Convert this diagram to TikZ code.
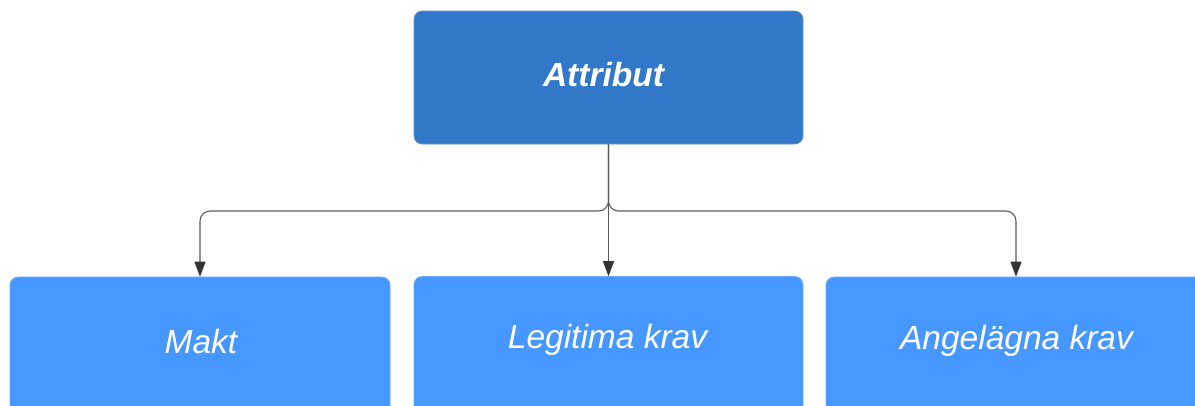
\documentclass[tikz,border=0pt]{standalone}
\usepackage{fontspec}
\setmainfont{Liberation Sans}
\usetikzlibrary{arrows.meta}
\definecolor{topblue}{HTML}{3278C8}
\definecolor{topedge}{HTML}{5C93D4}
\definecolor{lowblue}{HTML}{4697FF}
\definecolor{lowedge}{HTML}{6AABFF}
\definecolor{linec}{HTML}{5A5A5A}
\definecolor{tipc}{HTML}{333333}
\tikzset{
  topbox/.style={draw=topedge, line width=0.6pt, fill=topblue, rounded corners=8pt,
    minimum width=389pt, minimum height=133pt, inner sep=0pt},
  lowbox/.style={draw=lowedge, line width=0.6pt, fill=lowblue, rounded corners=8pt,
    minimum height=140pt, inner sep=0pt},
  toptxt/.style={text=white, font=\fontsize{33.5}{37}\selectfont\bfseries\itshape, inner sep=0pt},
  lowtxt/.style={text=white, font=\fontsize{33.5}{37}\selectfont\itshape, inner sep=0pt},
  conn/.style={draw=linec, line width=1.1pt, rounded corners=10pt,
    -{Triangle[width=11pt,length=15pt,color=tipc]}}
}
\begin{document}
\begin{tikzpicture}[x=1pt,y=-1pt]
  \useasboundingbox (0,0) rectangle (1195,405);
  \begin{scope}
    \clip (0,0) rectangle (1195,405);
    % top level box
    \node[topbox] (attr) at (608.5,77.5) {};
    \node[toptxt] (attrtxt) at (603.5,74.5) {Attribut};
    % three child boxes
    \node[lowbox, minimum width=380pt] (makt) at (200,347) {};
    \node[lowbox, minimum width=389pt] (legit) at (608.5,346.5) {};
    \node[lowbox, minimum width=380pt] (angel) at (1016,347) {};
    \node[lowtxt] (makttxt) at (201,341.5) {Makt};
    \node[lowtxt] (legittxt) at (607.5,339.5) {Legitima krav};
    \node[lowtxt] (angeltxt) at (1016.5,341) {Angelägna krav};
  \end{scope}
  % branching connectors
  \coordinate (split) at (608.5,211);
  \draw[conn] (attr.south) -- (split) -| (makt.north);
  \draw[conn] (attr.south) -- (legit.north);
  \draw[conn] (attr.south) -- (split) -| (angel.north);
\end{tikzpicture}
\end{document}
